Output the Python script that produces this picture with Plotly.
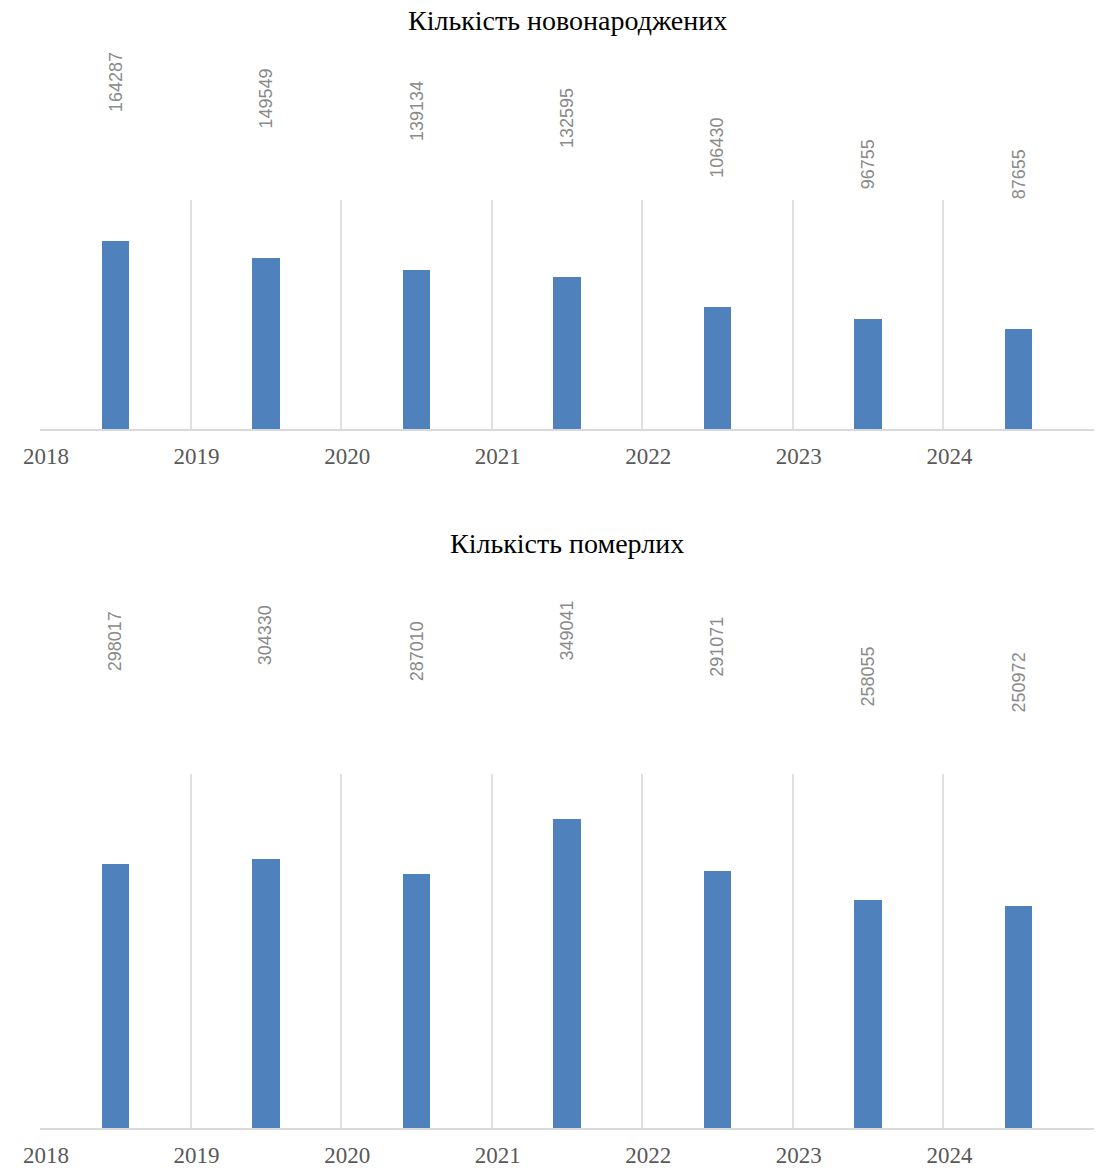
import plotly.graph_objects as go

# Data
years = [2018, 2019, 2020, 2021, 2022, 2023, 2024]
births = [164287, 149549, 139134, 132595, 106430, 96755, 87655]
deaths = [298017, 304330, 287010, 349041, 291071, 258055, 250972]
tick_years = [2018, 2019, 2020, 2021, 2022, 2023, 2024, 2025]
tick_text = ["2018", "2019", "2020", "2021", "2022", "2023", "2024", ""]
titles = ["Кількість новонароджених", "Кількість померлих"]

W, H = 1096, 1168
BAR = "#4f81bd"
GRID = "#e0e0e0"

# panel geometry (pixels from top of page)
panels = [
    dict(top=200, bottom=430, ymax=200000, lift=127, ceil=None, title_y=21),
    dict(top=775, bottom=1130, ymax=400000, lift=191, ceil=664, title_y=544),
]

fig = go.Figure()
annotations = []
series = [births, deaths]
for i, (p, vals) in enumerate(zip(panels, series)):
    xa = "x" if i == 0 else "x2"
    ya = "y" if i == 0 else "y2"
    fig.add_trace(go.Bar(
        x=[y + 0.5 for y in years], y=vals, width=0.183,
        marker=dict(color=BAR, line=dict(width=0)),
        xaxis=xa, yaxis=ya, showlegend=False, hoverinfo="skip",
    ))
    plot_h = p["bottom"] - p["top"]
    for yr, v in zip(years, vals):
        # value labels float above each bar, kept clear of the panel title
        bar_top = p["bottom"] - v / p["ymax"] * plot_h
        shift = p["lift"]
        if p["ceil"] is not None:
            shift = min(shift, bar_top - p["ceil"])
        annotations.append(dict(
            x=yr + 0.5, y=v, xref=xa, yref=ya, text=str(v),
            textangle=-90, showarrow=False, xanchor="center", yanchor="bottom",
            yshift=shift,
            font=dict(family="Liberation Sans", size=18, color="#8a8a8a"),
        ))
    annotations.append(dict(
        x=0.5, y=1 - p["title_y"] / H, xref="paper", yref="paper",
        text=titles[i], showarrow=False, xanchor="center", yanchor="middle",
        font=dict(family="Liberation Serif", size=28, color="#000000"),
    ))

xaxis_common = dict(
    range=[2018, 2025], tickmode="array", tickvals=tick_years, ticktext=tick_text,
    showgrid=True, gridcolor=GRID, gridwidth=1.5, zeroline=False,
    showline=True, linecolor="#d9d9d9", linewidth=2, ticks="",
    ticklabelstandoff=5, ticklabelshift=6,
    tickfont=dict(family="Liberation Serif", size=23, color="#595959"),
    fixedrange=True,
)
yaxis_common = dict(showgrid=False, zeroline=False, showticklabels=False, showline=False)

fig.update_layout(
    width=W, height=H,
    margin=dict(l=40, r=2, t=0, b=0),
    paper_bgcolor="white", plot_bgcolor="white",
    xaxis=dict(domain=[0, 1], anchor="y", **xaxis_common),
    yaxis=dict(domain=[1 - panels[0]["bottom"] / H, 1 - panels[0]["top"] / H],
               range=[0, panels[0]["ymax"]], anchor="x", **yaxis_common),
    xaxis2=dict(domain=[0, 1], anchor="y2", **xaxis_common),
    yaxis2=dict(domain=[1 - panels[1]["bottom"] / H, 1 - panels[1]["top"] / H],
                range=[0, panels[1]["ymax"]], anchor="x2", **yaxis_common),
    annotations=annotations,
    bargap=0,
)

fig.write_html("out.html")
